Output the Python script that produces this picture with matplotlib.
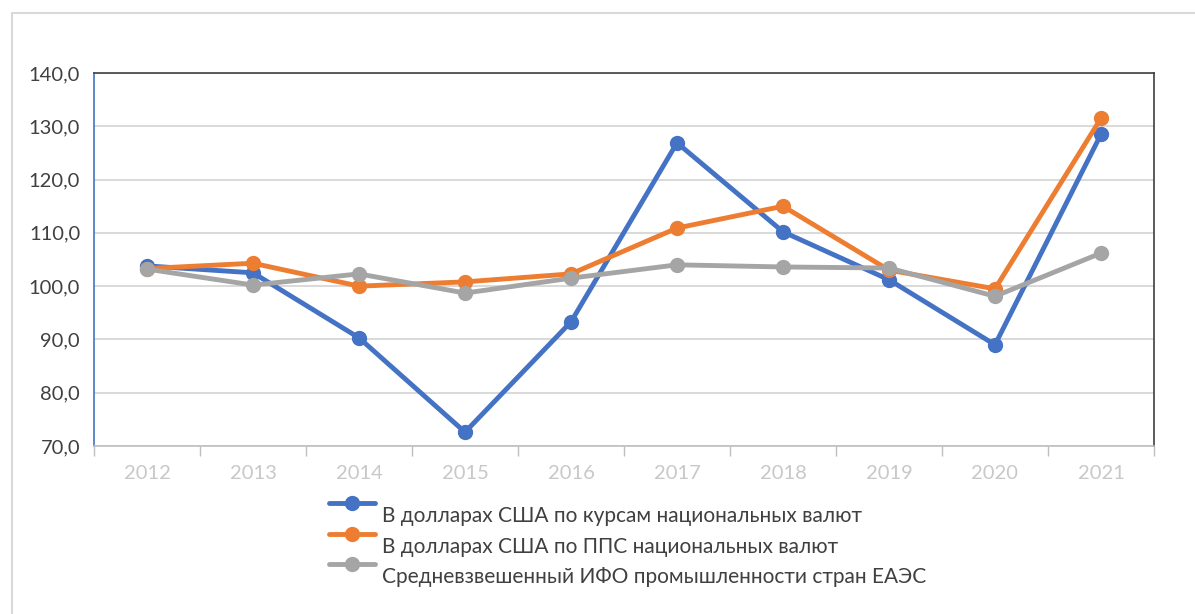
import numpy as np
import matplotlib.pyplot as plt
import matplotlib.transforms as mtransforms
from matplotlib.patches import Rectangle

plt.rcParams['font.family'] = ['Lato', 'DejaVu Sans']

years = ['2012', '2013', '2014', '2015', '2016', '2017', '2018', '2019', '2020', '2021']
usd_rate = [103.8, 102.5, 90.3, 72.6, 93.3, 126.9, 110.2, 101.2, 89.0, 128.5]
usd_ppp = [103.3, 104.3, 100.0, 100.8, 102.3, 110.9, 115.0, 103.0, 99.5, 131.5]
eaeu_avg = [103.2, 100.2, 102.3, 98.7, 101.5, 104.0, 103.6, 103.4, 98.1, 106.2]

labels = ['В долларах США по курсам национальных валют',
          'В долларах США по ППС национальных валют',
          'Средневзвешенный ИФО промышленности стран ЕАЭС']
colors = ['#4472C4', '#ED7D31', '#A5A5A5']

fig = plt.figure(figsize=(11.95, 6.14), dpi=100)
fig.patches.append(Rectangle((12 / 1195, -0.1), 1.2, 1 - 13 / 614 + 0.1,
                             transform=fig.transFigure, fill=False,
                             edgecolor='#D9D9D9', linewidth=1.5))
ax = fig.add_axes([94 / 1195, 1 - 446 / 614, 1060 / 1195, 373 / 614])

x = np.arange(len(years))
for series, lab, c in zip([usd_rate, usd_ppp, eaeu_avg], labels, colors):
    ax.plot(x, series, color=c, linewidth=3.5, marker='o', markersize=10,
            label=lab, solid_capstyle='round')

ax.set_xlim(-0.5, len(years) - 0.5)
ax.set_ylim(70, 140)
ax.set_yticks(np.arange(70, 141, 10))
ax.set_yticklabels([f'{v:.1f}'.replace('.', ',') for v in np.arange(70, 141, 10)])
ax.set_xticks(x)
ax.set_xticklabels(years)
ax.set_xticks(np.arange(-0.5, len(years), 1), minor=True)

ax.tick_params(axis='y', length=0, labelsize=14.5, labelcolor='#404040', pad=10)
ax.tick_params(axis='x', which='major', length=0, labelsize=14.5,
               labelcolor='#C8C8C8', pad=14)
ax.tick_params(axis='x', which='minor', length=7, color='#BFBFBF', width=1)

ax.grid(axis='y', color='#D9D9D9', linewidth=1.4)
ax.set_axisbelow(True)
ax.spines['left'].set_color('#4472C4')
ax.spines['top'].set_color('#404040')
ax.spines['right'].set_color('#404040')
ax.spines['bottom'].set_color('#BFBFBF')
for s in ax.spines.values():
    s.set_linewidth(1.2)

leg = ax.legend(loc='upper left', bbox_to_anchor=(319 / 1195, 1 - 484 / 614),
                bbox_transform=fig.transFigure, frameon=False, fontsize=15,
                handlelength=2.2, handletextpad=0.3, labelspacing=0.5,
                borderpad=0)
# в оригинале подпись стоит чуть ниже маркера
shift = mtransforms.Affine2D().translate(0, -12)
for t in leg.get_texts():
    t.set_color('#404040')
    t.set_transform(t.get_transform() + shift)

fig.savefig('out.png', dpi=100)
